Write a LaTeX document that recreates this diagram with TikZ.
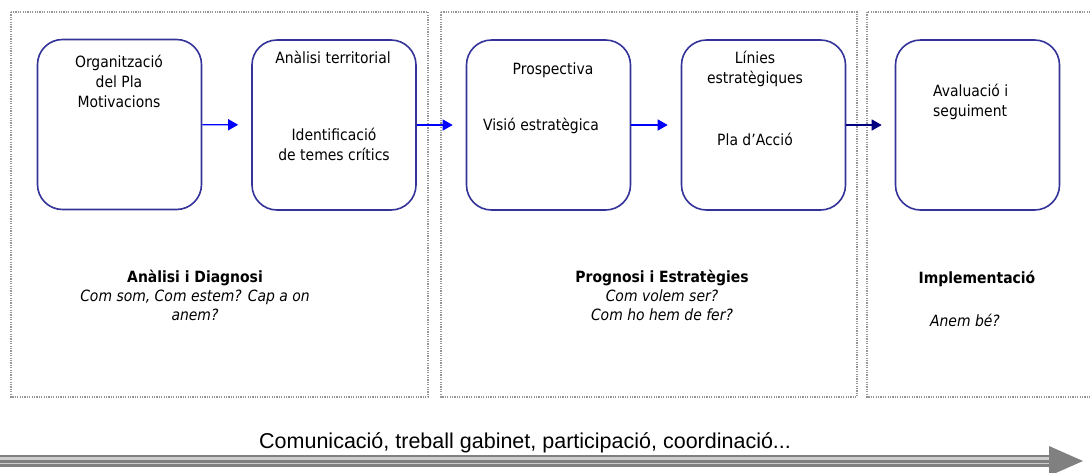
\documentclass[tikz,border=0pt]{standalone}
\usepackage{fontspec}
\setmainfont{DejaVu Sans Condensed}
\newfontfamily\arialfont{Liberation Sans}
\usetikzlibrary{arrows.meta}

\definecolor{boxBlue}{RGB}{51,51,153}
\definecolor{arrowBlue}{RGB}{0,0,255}
\definecolor{arrowNavy}{RGB}{0,0,128}
\definecolor{panelGray}{RGB}{150,150,150}
\definecolor{barGray}{RGB}{128,128,128}
\definecolor{barLight}{RGB}{205,205,205}

\tikzset{
  stage/.style={draw=boxBlue, line width=1.6pt, rounded corners=25pt,
    minimum width=164pt, minimum height=170pt, fill=white},
  panel/.style={draw=panelGray, line width=1.2pt, dash pattern=on 1.2pt off 1.2pt},
  flow/.style={line width=1.3pt, -{Triangle[length=10pt,width=11pt]}, shorten >=13pt},
  boxtext/.style={font=\fontsize{15.5}{20}\selectfont, align=center, anchor=base, inner sep=0pt},
  phasetext/.style={font=\fontsize{15.5}{19}\selectfont, align=center, anchor=base, inner sep=0pt}
}

\begin{document}
\begin{tikzpicture}[x=1pt,y=-1pt]
  \useasboundingbox (0,0) rectangle (1090,472);

  % phase panels
  \draw[panel] (11,12) rectangle (428,397);
  \draw[panel] (441,12) rectangle (857,397);
  \draw[panel] (867,12) rectangle (1100,397);

  % stage boxes
  \node[stage] (org)  at (119.5,124.5) {};
  \node[stage] (terr) at (334,125) {};
  \node[stage] (prosp) at (548.5,125) {};
  \node[stage] (lines) at (763.5,125) {};
  \node[stage] (eval) at (977.5,125) {};

  % box texts (base = last line)
  \node[boxtext] (orgTxt)   at (119,107) {Organització\\del Pla\\Motivacions};
  \node[boxtext] (terrTop)  at (333,63)  {Anàlisi territorial};
  \node[boxtext] (terrBot)  at (334,160) {Identificació\\de temes crítics};
  \node[boxtext] (prospTop) at (553,74)  {Prospectiva};
  \node[boxtext] (prospBot) at (541,130) {Visió estratègica};
  \node[boxtext] (linesTop) at (755,83)  {Línies\\estratègiques};
  \node[boxtext] (linesBot) at (755,145) {Pla d’Acció};
  \node[boxtext, anchor=base west, align=left] (evalTxt) at (933,116) {Avaluació i\\seguiment};

  % flow between stages
  \draw[flow, arrowBlue] (org) -- (terr);
  \draw[flow, arrowBlue] (terr) -- (prosp);
  \draw[flow, arrowBlue] (prosp) -- (lines);
  \draw[flow, arrowNavy] (lines) -- (eval);

  % phase labels
  \node[phasetext] (diagLbl) at (195,320)
    {\textbf{Anàlisi i Diagnosi}\\\textit{Com som, Com estem? Cap a on}\\\textit{anem?}};
  \node[phasetext] (progLbl) at (662,320)
    {\textbf{Prognosi i Estratègies}\\\textit{Com volem ser?}\\\textit{Com ho hem de fer?}};
  \node[phasetext] (implLbl) at (977,283) {\textbf{Implementació}};
  \node[phasetext] (implQ)   at (965,326) {\textit{Anem bé?}};

  % bottom bar
  \coordinate (barStart) at (0,461);
  \coordinate (barEnd)   at (1049,461);
  \coordinate (barTip)   at (1083,461);
  \fill[barLight] ([yshift=-6pt]barStart) rectangle ([yshift=6pt]barEnd);
  \draw[barGray, line width=3pt] ([yshift=-4.5pt]barStart) -- ([yshift=-4.5pt]barEnd);
  \draw[barGray, line width=3pt] (barStart) -- (barEnd);
  \draw[barGray, line width=2pt] ([yshift=4.8pt]barStart) -- ([yshift=4.8pt]barEnd);
  \fill[barGray] ([yshift=-15pt]barEnd) -- (barTip) -- ([yshift=15pt]barEnd) -- cycle;
  \node[anchor=base west, inner sep=0pt, font=\arialfont\fontsize{21.5}{24}\selectfont]
    (commLbl) at (259,448) {Comunicació, treball gabinet, participació, coordinació...};
\end{tikzpicture}
\end{document}
